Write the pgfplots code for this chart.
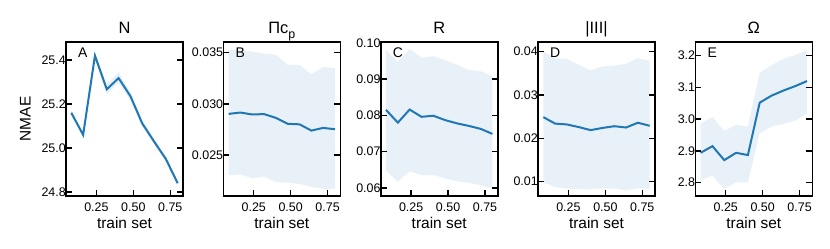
\documentclass[border=0pt]{standalone}
\usepackage{fontspec}
\setmainfont{Liberation Sans}
\usepackage{pgfplots}
\pgfplotsset{compat=1.18}
\usepackage{pgfplotstable}
\definecolor{lineblue}{HTML}{1F77B4}
\definecolor{bandblue}{HTML}{E9F1F8}

\pgfplotstableread{
x mean lo hi
0.08 25.160 25.148 25.172
0.16 25.060 25.050 25.070
0.24 25.420 25.405 25.435
0.32 25.267 25.245 25.290
0.40 25.318 25.295 25.345
0.48 25.236 25.215 25.255
0.56 25.112 25.097 25.127
0.64 25.030 25.018 25.042
0.72 24.950 24.940 24.962
0.80 24.840 24.832 24.848
}\tA
\pgfplotstableread{
x mean lo hi
0.08 0.02902 0.02305 0.03526
0.16 0.02915 0.02310 0.03530
0.24 0.02896 0.02272 0.03510
0.32 0.02900 0.02290 0.03490
0.40 0.02863 0.02236 0.03480
0.48 0.02805 0.02230 0.03380
0.56 0.02800 0.02217 0.03380
0.64 0.02739 0.02190 0.03290
0.72 0.02765 0.02170 0.03360
0.80 0.02752 0.02170 0.03350
}\tB
\pgfplotstableread{
x mean lo hi
0.08 0.0815 0.0648 0.0980
0.16 0.0780 0.0617 0.0947
0.24 0.0816 0.0646 0.0983
0.32 0.0796 0.0635 0.0959
0.40 0.0799 0.0636 0.0963
0.48 0.0787 0.0626 0.0952
0.56 0.0778 0.0619 0.0940
0.64 0.0771 0.0614 0.0925
0.72 0.0763 0.0608 0.0922
0.80 0.0749 0.0598 0.0908
}\tC
\pgfplotstableread{
x mean lo hi
0.08 0.0249 0.0098 0.0400
0.16 0.0234 0.0088 0.0385
0.24 0.0232 0.0084 0.0383
0.32 0.0226 0.0083 0.0370
0.40 0.0219 0.0083 0.0357
0.48 0.0224 0.0084 0.0366
0.56 0.0228 0.0084 0.0368
0.64 0.0225 0.0080 0.0372
0.72 0.0236 0.0085 0.0385
0.80 0.0229 0.0083 0.0379
}\tD
\pgfplotstableread{
x mean lo hi
0.08 2.894 2.808 2.986
0.16 2.915 2.822 3.007
0.24 2.871 2.780 2.963
0.32 2.894 2.801 2.982
0.40 2.887 2.801 2.976
0.48 3.052 2.955 3.147
0.56 3.074 2.977 3.170
0.64 3.090 2.985 3.190
0.72 3.104 2.995 3.202
0.80 3.120 3.018 3.218
}\tE

\pgfplotsset{
  panel/.style={
    scale only axis, width=117bp, height=154bp, anchor=south west,
    xmin=0.044, xmax=0.836,
    xtick={0.25,0.5,0.75}, xticklabels={0.25,0.50,0.75},
    scaled y ticks=false, scaled x ticks=false,
    xtick pos=lower, ytick pos=both,
    tick align=inside, major tick length=6bp,
    axis on top,
    axis line style={line width=1.6bp},
    major tick style={black, line width=1.4bp},
    /pgf/number format/assume math mode=true,
    xticklabel style={font=\fontsize{12.5}{14}\selectfont, anchor=base, inner sep=0pt, yshift=-15.8bp},
    yticklabel style={font=\fontsize{12.5}{14}\selectfont, anchor=east, inner sep=0pt, xshift=0bp},
    xlabel={train set},
    xlabel style={font=\fontsize{15.5}{17}\selectfont, at={(axis description cs:0.5,0)}, anchor=base, inner sep=0pt, yshift=-32.7bp},
    title style={font=\fontsize{16.5}{18}\selectfont, at={(axis description cs:0.5,1)}, anchor=base, inner sep=0pt, yshift=2.5bp},
    clip=true,
  },
  meanline/.style={lineblue, line width=2bp},
}
\newcommand{\panelletter}[1]{\node[anchor=base west, inner sep=0pt, font=\fontsize{14}{16}\selectfont, xshift=12bp, yshift=-15.3bp] at (rel axis cs:0,1) {#1};}
\newcommand{\band}[1]{%
  \addplot[draw=none, stack plots=y, forget plot] table[x=x, y=lo] {#1};
  \addplot[fill=bandblue, draw=none, stack plots=y, forget plot] table[x=x, y expr=\thisrow{hi}-\thisrow{lo}] {#1} \closedcycle;
  \addplot[meanline, stack plots=false] table[x=x, y=mean] {#1};
}

\begin{document}
\begin{tikzpicture}
\begin{axis}[panel, at={(66bp,53bp)}, title={N},
  ymin=24.782, ymax=25.482, ytick={24.8,25.0,25.2,25.4}, yticklabels={24.8,25.0,25.2,25.4},
  ylabel={NMAE}, ylabel style={font=\fontsize{15.5}{17}\selectfont, at={(axis description cs:0,0.5)}, anchor=base, inner sep=0pt, yshift=35.3bp}]
\band{\tA}
\panelletter{A}
\end{axis}
\begin{axis}[panel, at={(223.3bp,53bp)}, title={Πc\raisebox{-0.32em}{\fontsize{12.5}{13}\selectfont p}},
  ymin=0.021, ymax=0.03604, ytick={0.025,0.030,0.035}, yticklabels={0.025,0.030,0.035}]
\band{\tB}
\panelletter{B}
\end{axis}
\begin{axis}[panel, at={(380.7bp,53bp)}, title={R},
  ymin=0.0578, ymax=0.1002, ytick={0.06,0.07,0.08,0.09,0.10}, yticklabels={0.06,0.07,0.08,0.09,0.10}]
\band{\tC}
\panelletter{C}
\end{axis}
\begin{axis}[panel, at={(538bp,53bp)}, title={|III|},
  ymin=0.0067, ymax=0.04223, ytick={0.01,0.02,0.03,0.04}, yticklabels={0.01,0.02,0.03,0.04}]
\band{\tD}
\panelletter{D}
\end{axis}
\begin{axis}[panel, at={(695.3bp,53bp)}, title={Ω},
  ymin=2.758, ymax=3.243, ytick={2.8,2.9,3.0,3.1,3.2}, yticklabels={2.8,2.9,3.0,3.1,3.2}]
\band{\tE}
\panelletter{E}
\end{axis}
\pgfresetboundingbox
\useasboundingbox (0,0) rectangle (830bp,249bp);
\end{tikzpicture}
\end{document}
